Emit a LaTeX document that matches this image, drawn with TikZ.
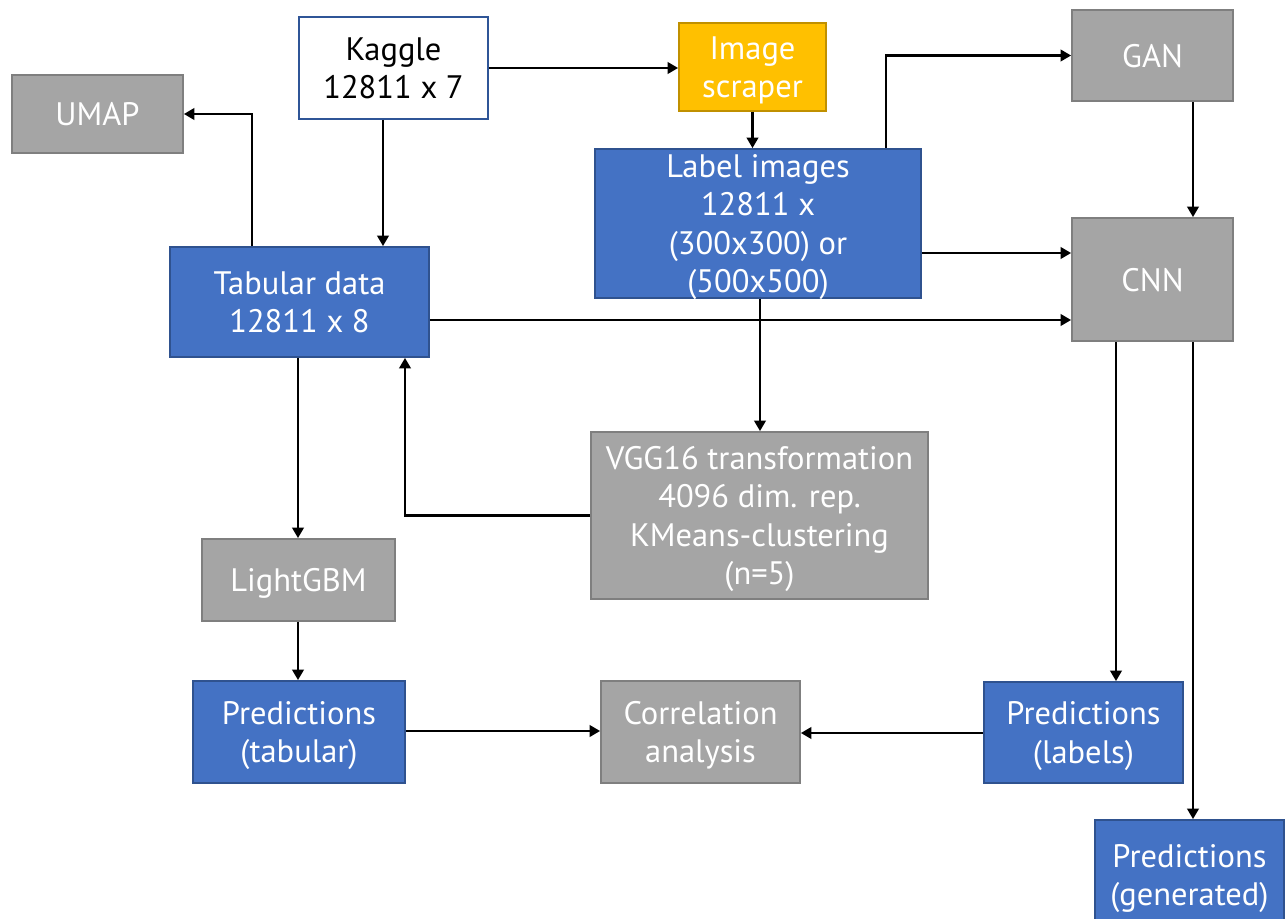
\documentclass[tikz,border=0pt]{standalone}
\usepackage{fontspec}
\setmainfont{PT Sans}
\usetikzlibrary{arrows.meta}
\definecolor{boxblue}{HTML}{4472C4}
\definecolor{boxblueline}{HTML}{2F528F}
\definecolor{boxgray}{HTML}{A5A5A5}
\definecolor{boxgrayline}{HTML}{7F7F7F}
\definecolor{boxgold}{HTML}{FFC000}
\definecolor{boxgoldline}{HTML}{C09000}
\definecolor{kagline}{HTML}{2F5597}
\begin{document}
\begin{tikzpicture}[x=0.02cm,y=-0.02cm,
  box/.style={rectangle, line width=1pt, align=center, inner sep=0pt,
    text depth=0pt, font=\fontsize{18.5}{21.8}\selectfont, text=white},
  bluebox/.style={box, fill=boxblue, draw=boxblueline},
  graybox/.style={box, fill=boxgray, draw=boxgrayline},
  goldbox/.style={box, fill=boxgold, draw=boxgoldline},
  whitebox/.style={box, fill=white, draw=kagline, text=black},
  flow/.style={line width=1.5pt, -{Triangle[length=6pt,width=6.5pt]}}]
\useasboundingbox (0,0) rectangle (1286,919);
\clip (0,0) rectangle (1286,919);

% boxes
\node[graybox, minimum width=3.42cm, minimum height=1.56cm] (umap) at (97.5,114) {UMAP};
\node[whitebox, minimum width=3.78cm, minimum height=2.04cm] (kaggle) at (393.5,68) {Kaggle\\12811 x 7};
\node[goldbox, minimum width=2.94cm, minimum height=1.76cm] (scraper) at (752.5,67) {Image\\scraper};
\node[graybox, minimum width=3.22cm, minimum height=1.82cm] (gan) at (1152.5,55.5) {GAN};
\node[bluebox, minimum width=6.52cm, minimum height=2.98cm] (label) at (758,223.5) {Label images\\12811 x\\(300x300) or\\(500x500)};
\node[graybox, minimum width=3.22cm, minimum height=2.46cm] (cnn) at (1152.5,279.5) {CNN};
\node[bluebox, minimum width=5.18cm, minimum height=2.2cm] (tab) at (299.5,302) {Tabular data\\12811 x 8};
\node[graybox, minimum width=6.74cm, minimum height=3.34cm] (vgg) at (759.5,515.5) {VGG16 transformation\\4096 dim. rep.\\KMeans-clustering\\(n=5)};
\node[graybox, minimum width=3.86cm, minimum height=1.64cm] (lgbm) at (298.5,580) {LightGBM};
\node[bluebox, minimum width=4.24cm, minimum height=2.04cm] (predtab) at (299,732) {Predictions\\(tabular)};
\node[graybox, minimum width=3.98cm, minimum height=2.04cm] (corr) at (700.5,732) {Correlation\\analysis};
\node[bluebox, minimum width=3.98cm, minimum height=2.02cm] (predlab) at (1083.5,732.5) {Predictions\\(labels)};
\node[bluebox, minimum width=3.78cm, minimum height=2.2cm] (predgen) at (1189.5,875) {Predictions\\(generated)};

% connectors
\draw[flow] (kaggle.east) -- (kaggle.east -| scraper.west);
\draw[flow] (383,0 |- kaggle.south) -- (383,0 |- tab.north);
\draw[flow] (252,0 |- tab.north) |- (umap.east);
\draw[flow] (scraper.south) -- (scraper.south |- label.north);
\draw[flow] (886,0 |- label.north) |- (gan.west);
\draw[flow] (1193,0 |- gan.south) -- (1193,0 |- cnn.north);
\draw[flow] (label.east |- 0,253) -- (cnn.west |- 0,253);
\draw[flow] (tab.east |- 0,320) -- (cnn.west |- 0,320);
\draw[flow] (760,0 |- label.south) -- (760,0 |- vgg.north);
\draw[flow] (vgg.west) -| (405,0 |- tab.south);
\draw[flow] (298,0 |- tab.south) -- (298,0 |- lgbm.north);
\draw[flow] (298,0 |- lgbm.south) -- (298,0 |- predtab.north);
\draw[flow] (predtab.east |- 0,731) -- (corr.west |- 0,731);
\draw[flow] (predlab.west |- 0,733) -- (corr.east |- 0,733);
\draw[flow] (1116,0 |- cnn.south) -- (1116,0 |- predlab.north);
\draw[flow] (1193,0 |- cnn.south) -- (1193,0 |- predgen.north);
\end{tikzpicture}
\end{document}
